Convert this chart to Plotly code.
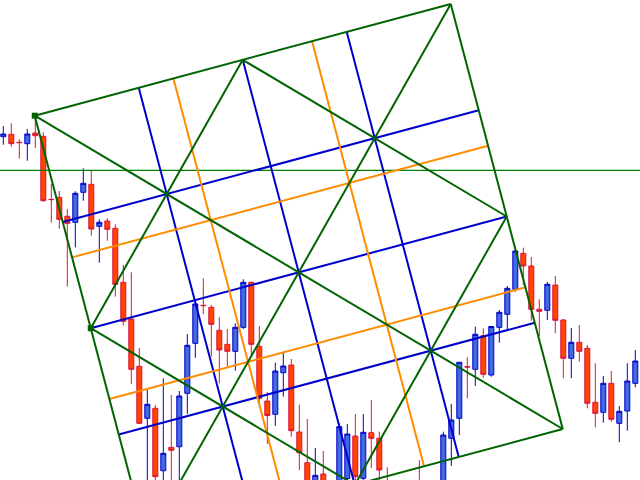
import plotly.graph_objects as go

# ---- candle data (bar index, prices) ----
idx = list(range(80))
opens = [343.3, 345.7, 337.7, 336.3, 347.0, 343.7, 280.7, 282.7, 263.7, 257.7,
         287.7, 295.7, 253.7, 259.0, 251.7, 197.7, 161.0, 113.7, 61.7, 71.7,
         9.3, 32.7, 33.3, 86.7, 136.7, 174.7, 172.7, 149.7, 135.7, 128.7,
         152.7, 197.7, 133.7, 79.0, 65.7, 107.3, 115.0, 48.0, 17.3, -15.0,
         6.0, -20.0, -15.0, 1.5, 44.0, 1.7, 47.3, 41.7, -10.0, -25.0,
         -35.0, -20.0, -10.0, -20.0, -15.0, -15.0, 41.7, 61.7, 113.3, 110.7,
         144.3, 105.0, 152.7, 165.7, 190.7, 226.7, 214.0, 170.7, 169.7, 195.0,
         160.0, 121.7, 137.7, 131.7, 77.7, 67.7, 96.7, 56.7, 69.0, 96.7]
highs = [354.0, 356.7, 340.7, 351.0, 364.3, 347.7, 296.0, 289.0, 271.0, 288.7,
         311.7, 309.0, 260.7, 261.7, 255.7, 215.0, 207.7, 132.0, 90.0, 75.0,
         101.7, 85.0, 89.0, 146.0, 180.0, 201.7, 175.0, 162.7, 151.0, 156.7,
         200.7, 198.3, 154.0, 88.0, 117.3, 128.3, 121.0, 75.3, 61.0, 32.0,
         29.0, -4.0, 56.7, 56.0, 66.0, 66.0, 80.0, 48.3, 12.7, -18.0,
         -10.0, -5.0, 20.0, -4.0, -2.0, 48.3, 76.0, 118.0, 122.7, 153.3,
         151.7, 154.0, 170.0, 194.0, 233.3, 232.3, 223.0, 180.7, 198.0, 204.0,
         161.0, 152.0, 155.0, 135.0, 116.7, 104.0, 109.0, 74.0, 116.7, 130.0]
lows = [335.3, 333.3, 321.3, 319.3, 332.0, 278.3, 257.3, 251.3, 193.3, 232.7,
        279.3, 244.3, 217.3, 239.3, 183.3, 154.3, 96.0, 56.0, -5.0, -8.0,
        -10.0, -10.0, -8.0, 66.0, 122.3, 165.7, 123.3, 96.7, 113.3, 109.3,
        151.0, 125.0, 76.7, 36.0, 54.0, 83.3, 43.3, 10.0, -20.0, -25.0,
        -20.0, -30.0, -20.0, -8.0, -5.0, -5.0, 12.0, -5.0, -30.0, -40.0,
        -42.0, -25.0, -25.0, -25.0, -20.0, -20.0, 14.0, 45.0, 81.7, 94.0,
        102.3, 103.3, 137.3, 149.0, 188.3, 195.0, 159.3, 144.0, 160.0, 146.7,
        101.7, 101.7, 118.3, 71.7, 52.7, 57.3, 58.3, 37.7, 49.3, 92.7]
closes = [346.0, 336.3, 337.4, 346.0, 344.3, 279.3, 280.4, 260.7, 256.7, 286.7,
          296.7, 251.0, 257.7, 250.7, 195.7, 158.7, 110.7, 56.7, 75.7, 3.3,
          26.7, 29.7, 84.0, 134.7, 176.0, 174.4, 155.7, 130.0, 128.7, 152.7,
          197.7, 135.7, 81.7, 64.5, 109.0, 114.0, 49.3, 27.3, -10.0, 4.7,
          -12.0, -8.0, 53.3, 46.0, 3.3, 47.7, 41.7, 10.0, -25.0, -35.0,
          -20.0, -10.0, -20.0, -8.0, -5.0, 45.0, 60.0, 117.7, 113.0, 145.7,
          105.7, 153.5, 167.7, 191.7, 229.0, 214.0, 170.7, 168.7, 195.7, 159.7,
          121.7, 137.7, 128.7, 76.7, 66.7, 96.7, 60.7, 68.7, 99.0, 119.0]

# ---- Gann grid anchors (bar index, price) ----
grid_anchor_a = (3.93, 364.3)    # top-left corner
grid_anchor_c = (55.93, 476.0)   # top-right corner
grid_anchor_d = (69.93, 51.0)    # bottom-right corner
quarter_levels = [0.25, 0.5, 0.75]
third_levels = [1 / 3, 2 / 3]
hline_price = 309.7


def P(u, v):
    ax, ay = grid_anchor_a
    cx, cy = grid_anchor_c
    dx, dy = grid_anchor_d
    return (ax + u * (cx - ax) + v * (dx - cx), ay + u * (cy - ay) + v * (dy - cy))


def seg_trace(segs, color, width):
    xs, ys = [], []
    for (u0, v0), (u1, v1) in segs:
        p0, p1 = P(u0, v0), P(u1, v1)
        xs += [p0[0], p1[0], None]
        ys += [p0[1], p1[1], None]
    return go.Scatter(x=xs, y=ys, mode="lines", line=dict(color=color, width=width),
                      hoverinfo="skip", showlegend=False)


fig = go.Figure()
fig.add_trace(go.Candlestick(
    x=idx, open=opens, high=highs, low=lows, close=closes,
    increasing=dict(line=dict(color="#0000CD", width=1), fillcolor="#4169E1"),
    decreasing=dict(line=dict(color="#DC143C", width=1), fillcolor="#FF4500"),
    whiskerwidth=0, showlegend=False))

# horizontal line
fig.add_trace(go.Scatter(x=[-1, 81], y=[hline_price, hline_price], mode="lines",
                         line=dict(color="#008000", width=1.2), hoverinfo="skip",
                         showlegend=False))

blue_segs = []
for f in quarter_levels:
    blue_segs.append(((0, f), (1, f)))
    blue_segs.append(((f, 0), (f, 1)))
orange_segs = []
for f in third_levels:
    orange_segs.append(((0, f), (1, f)))
    orange_segs.append(((f, 0), (f, 1)))
green_segs = [((0, 0), (1, 0)), ((1, 0), (1, 1)), ((1, 1), (0, 1)), ((0, 1), (0, 0)),
              ((0, 0), (1, 1)), ((1, 0), (0, 1)),
              ((0.5, 0), (1, 0.5)), ((1, 0.5), (0.5, 1)), ((0.5, 1), (0, 0.5)), ((0, 0.5), (0.5, 0))]

fig.add_trace(seg_trace(blue_segs, "#0000CD", 2))
fig.add_trace(seg_trace(orange_segs, "#FF8C00", 2))
fig.add_trace(seg_trace(green_segs, "#006400", 2))

mk = [P(0, 0), P(0, 0.5)]
fig.add_trace(go.Scatter(x=[p[0] for p in mk], y=[p[1] for p in mk], mode="markers",
                         marker=dict(symbol="square", size=6, color="#006400"),
                         hoverinfo="skip", showlegend=False))

fig.update_layout(
    width=640, height=480, margin=dict(l=0, r=0, t=0, b=0),
    paper_bgcolor="white", plot_bgcolor="white",
    boxgap=0.375, boxgroupgap=0,
    xaxis=dict(range=[-0.4125, 79.5875], visible=False, rangeslider=dict(visible=False),
               fixedrange=True),
    yaxis=dict(range=[0, 480], visible=False, fixedrange=True),
)
fig.write_html("out.html", config={"displayModeBar": False},
               post_script="document.body.style.margin='0';document.body.style.padding='0';"
                           "document.body.style.overflow='hidden';")
